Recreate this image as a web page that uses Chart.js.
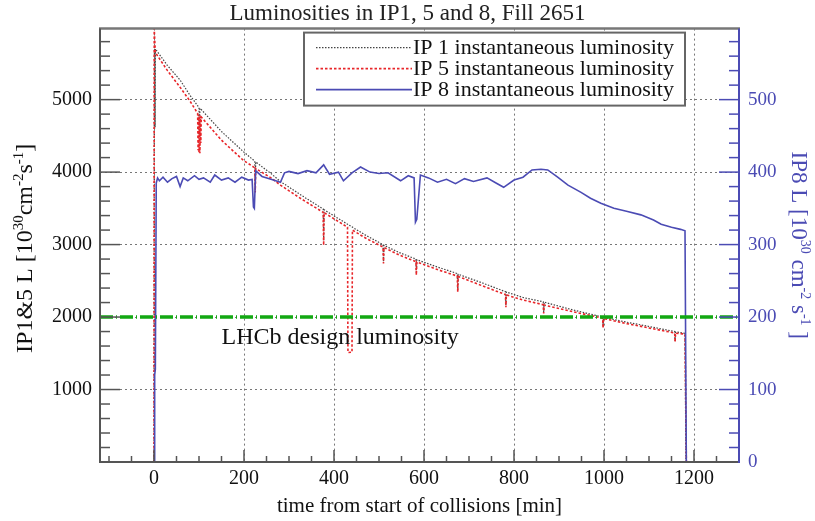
<!DOCTYPE html>
<html>
<head>
<meta charset="utf-8">
<script src="https://cdn.jsdelivr.net/npm/chart.js@4.4.0/dist/chart.umd.min.js"></script>
<style>
  body { margin: 0; background: #fff; }
  #wrap { width: 815px; height: 521px; }
</style>
</head>
<body>
<div id="wrap"><canvas id="lumi" width="815" height="521"></canvas></div>
<script>
// time from start of collisions [min] and luminosity values
const ip1Time = [0, 0.5, 1, 1.5, 2, 2.5, 3, 30, 58, 80, 100, 101, 102, 104, 150, 199, 224, 225, 226, 260, 281, 330, 376, 377, 378, 433, 470, 509, 510, 511, 545, 582, 583, 584, 630, 674, 675, 676, 730, 781, 782, 783, 820, 865, 866, 867, 930, 997, 998, 999, 1050, 1100, 1157, 1158, 1159, 1180, 1182];
const ip1Lumi = [0, 4580, 5700, 4600, 5690, 4620, 5700, 5470, 5270, 5060, 4890, 4480, 4880, 4870, 4560, 4280, 4150, 3800, 4140, 3980, 3870, 3670, 3490, 3050, 3480, 3270, 3130, 3000, 2760, 2990, 2890, 2800, 2600, 2790, 2690, 2600, 2370, 2590, 2470, 2350, 2160, 2345, 2270, 2210, 2070, 2205, 2100, 2000, 1870, 1995, 1930, 1870, 1800, 1670, 1795, 1775, 0];

const ip5Time = [0, 0.5, 3, 30, 58, 80, 97, 98, 99, 100, 101, 102, 103, 104, 105, 150, 199, 224, 225, 226, 260, 281, 330, 376, 377, 378, 430, 431, 440, 441, 470, 509, 510, 511, 545, 582, 583, 584, 630, 674, 675, 676, 730, 781, 782, 783, 820, 865, 866, 867, 930, 997, 998, 999, 1050, 1100, 1157, 1158, 1159, 1180, 1183];
const ip5Lumi = [0, 5980, 5650, 5400, 5170, 4980, 4810, 4300, 4790, 4270, 4780, 4260, 4770, 4400, 4760, 4440, 4160, 4060, 3720, 4050, 3920, 3820, 3620, 3445, 2990, 3440, 3240, 1510, 1515, 3200, 3090, 2965, 2740, 2960, 2855, 2765, 2580, 2760, 2655, 2565, 2345, 2560, 2430, 2310, 2135, 2305, 2235, 2170, 2050, 2165, 2075, 1985, 1850, 1980, 1910, 1850, 1780, 1655, 1778, 1765, 0];

const ip8Time = [0, 1, 2, 3, 5, 8, 12, 20, 30, 40, 50, 58, 65, 75, 90, 100, 110, 125, 135, 150, 165, 180, 195, 210, 218, 221, 223, 226, 240, 260, 281, 290, 300, 320, 340, 360, 377, 390, 410, 421, 440, 459, 480, 500, 520, 548, 565, 578, 581, 584, 592, 610, 630, 650, 670, 690, 710, 740, 760, 777, 800, 820, 840, 860, 875, 897, 920, 949, 970, 993, 1022, 1050, 1082, 1110, 1127, 1150, 1170, 1180, 1183];
const ip8Lumi = [0, 5, 120, 128, 385, 392, 388, 393, 386, 391, 394, 380, 392, 388, 395, 390, 392, 386, 396, 389, 392, 386, 393, 389, 390, 352, 350, 402, 394, 390, 386, 399, 401, 398, 402, 399, 410, 397, 400, 388, 399, 407, 400, 398, 399, 388, 395, 392, 331, 335, 396, 392, 386, 390, 384, 391, 387, 392, 385, 379, 389, 393, 403, 404, 403, 393, 382, 372, 364, 357, 350, 346, 341, 334, 328, 324, 321, 319, 0];

const designTime = [-120, 1300];
const designLumi = [2000, 2000];

const xTickValues = [0, 200, 400, 600, 800, 1000, 1200];
const leftTickValues = [0, 1000, 2000, 3000, 4000, 5000];
const rightTickValues = [0, 100, 200, 300, 400, 500];

const labels = ['IP 1 instantaneous luminosity', 'IP 5 instantaneous luminosity', 'IP 8 instantaneous luminosity'];

// axis titles with superscripts: [text, isSuperscript]
const leftTitle = [['IP1&5 L [10', false], ['30', true], ['cm', false], ['-2', true], ['s', false], ['-1', true], [']', false]];
const rightTitle = [['IP8 L [10', false], ['30', true], [' cm', false], ['-2', true], [' s', false], ['-1', true], [' ]', false]];

const serif = "'Liberation Serif', 'Times New Roman', serif";
const axisGray = '#555';
const blue = '#4b4bb4';

function toPoints(xs, ys) {
  return xs.map((x, i) => ({ x: x, y: ys[i] }));
}

function stroke(ctx, x1, y1, x2, y2) {
  ctx.beginPath();
  ctx.moveTo(x1, y1);
  ctx.lineTo(x2, y2);
  ctx.stroke();
}

function richText(ctx, parts, cx, cy, angle, color, size) {
  const big = size + 'px ' + serif, small = Math.round(size * 0.63) + 'px ' + serif;
  let total = 0;
  parts.forEach(p => { ctx.font = p[1] ? small : big; total += ctx.measureText(p[0]).width; });
  ctx.save();
  ctx.translate(cx, cy);
  ctx.rotate(angle);
  ctx.fillStyle = color;
  ctx.textBaseline = 'alphabetic';
  ctx.textAlign = 'left';
  let x = -total / 2;
  parts.forEach(p => {
    ctx.font = p[1] ? small : big;
    ctx.fillText(p[0], x, p[1] ? -1 : 8);
    x += ctx.measureText(p[0]).width;
  });
  ctx.restore();
}

// inward ROOT-style ticks plus the frame
const frameTicks = {
  id: 'frameTicks',
  afterDatasetsDraw(chart) {
    const { ctx, chartArea: a, scales } = chart;
    ctx.save();
    ctx.setLineDash([]);
    ctx.strokeStyle = axisGray;
    ctx.lineWidth = 1.5;
    for (let v = -100; v < 1300; v += 50) {
      const px = scales.x.getPixelForValue(v);
      stroke(ctx, px, a.bottom, px, a.bottom - (v % 200 === 0 ? 12 : 6));
    }
    for (let v = 200; v < 5980; v += 200) {
      const py = scales.y.getPixelForValue(v);
      stroke(ctx, a.left, py, a.left + (v % 1000 === 0 ? 20 : 10), py);
    }
    ctx.strokeStyle = blue;
    for (let v = 20; v < 598; v += 20) {
      const py = scales.y2.getPixelForValue(v);
      stroke(ctx, a.right, py, a.right - (v % 100 === 0 ? 20 : 10), py);
    }
    // frame
    ctx.lineWidth = 2.5;
    ctx.strokeStyle = '#777';
    stroke(ctx, a.left - 1, a.top, a.right + 1, a.top);
    ctx.lineWidth = 2;
    ctx.strokeStyle = axisGray;
    stroke(ctx, a.left, a.top, a.left, a.bottom + 1);
    stroke(ctx, a.left, a.bottom, a.right, a.bottom);
    ctx.strokeStyle = blue;
    stroke(ctx, a.right, a.top, a.right, a.bottom + 1);
    ctx.restore();
  },
  afterDraw(chart) {
    const { ctx, chartArea: a, scales } = chart;
    const midY = (a.top + a.bottom) / 2;
    richText(ctx, leftTitle, 24, midY + 3, -Math.PI / 2, '#111', 24);
    richText(ctx, rightTitle, 800, midY, Math.PI / 2, blue, 23);

    ctx.save();
    // LHCb design label
    ctx.font = '24px ' + serif;
    ctx.fillStyle = '#111';
    ctx.textAlign = 'left';
    ctx.textBaseline = 'middle';
    ctx.fillText('LHCb design luminosity', scales.x.getPixelForValue(150), scales.y.getPixelForValue(1720));

    // legend box
    const bx = a.right - 435, by = a.top + 4, bw = 381, bh = 73;
    ctx.fillStyle = '#fff';
    ctx.fillRect(bx, by, bw, bh);
    ctx.lineWidth = 2;
    ctx.strokeStyle = '#666';
    ctx.strokeRect(bx, by, bw, bh);
    ctx.font = '22px ' + serif;
    chart.data.datasets.slice(0, 3).forEach((ds, i) => {
      const y = by + 15 + i * 21;
      ctx.strokeStyle = ds.borderColor;
      ctx.lineWidth = ds.borderWidth;
      ctx.setLineDash(ds.borderDash || []);
      stroke(ctx, bx + 12, y, bx + 108, y);
      ctx.setLineDash([]);
      ctx.fillStyle = '#111';
      ctx.fillText(ds.label, bx + 109, y + 1);
    });
    ctx.restore();
  }
};

new Chart(document.getElementById('lumi'), {
  type: 'line',
  data: {
    datasets: [
      {
        label: labels[0],
        data: toPoints(ip1Time, ip1Lumi),
        borderColor: '#444',
        borderWidth: 1.2,
        borderDash: [1.5, 1.5],
        yAxisID: 'y',
        order: 3
      },
      {
        label: labels[1],
        data: toPoints(ip5Time, ip5Lumi),
        borderColor: '#e8262a',
        borderWidth: 1.6,
        borderDash: [2.5, 2],
        yAxisID: 'y',
        order: 2
      },
      {
        label: labels[2],
        data: toPoints(ip8Time, ip8Lumi),
        borderColor: blue,
        borderWidth: 1.6,
        yAxisID: 'y2',
        order: 1
      },
      {
        label: 'LHCb design luminosity',
        data: toPoints(designTime, designLumi),
        borderColor: '#12a812',
        borderWidth: 3.5,
        borderDash: [13, 3, 1, 3],
        yAxisID: 'y',
        order: 0
      }
    ]
  },
  options: {
    responsive: false,
    animation: false,
    parsing: false,
    elements: { point: { radius: 0 }, line: { tension: 0 } },
    plugins: {
      legend: { display: false },
      tooltip: { enabled: false },
      title: {
        display: true,
        text: 'Luminosities in IP1, 5 and 8, Fill 2651',
        color: '#222',
        font: { family: serif, size: 23, weight: 'normal' },
        padding: { top: 0, bottom: 1 }
      }
    },
    scales: {
      x: {
        type: 'linear',
        position: 'bottom',
        min: -120,
        max: 1300,
        afterBuildTicks: s => { s.ticks = xTickValues.map(v => ({ value: v })); },
        afterFit: s => { s.height = 59; },
        ticks: {
          color: '#111',
          font: { family: serif, size: 20 },
          padding: 5,
          maxRotation: 0,
          autoSkip: false,
          callback: v => String(v)
        },
        grid: { color: '#777', lineWidth: 1, drawTicks: false },
        border: { display: false, dash: [2, 3] },
        title: {
          display: true,
          text: 'time from start of collisions [min]',
          color: '#111',
          font: { family: serif, size: 21 },
          padding: { top: 0, bottom: 2 }
        }
      },
      y: {
        type: 'linear',
        position: 'left',
        min: 0,
        max: 5980,
        afterBuildTicks: s => { s.ticks = leftTickValues.map(v => ({ value: v })); },
        afterFit: s => { s.width = 100; },
        ticks: {
          color: '#111',
          font: { family: serif, size: 20 },
          padding: 8,
          callback: v => (v === 0 ? '' : String(v))
        },
        grid: { color: '#777', lineWidth: 1, drawTicks: false },
        border: { display: false, dash: [2, 3] }
      },
      y2: {
        type: 'linear',
        position: 'right',
        min: 0,
        max: 598,
        afterBuildTicks: s => { s.ticks = rightTickValues.map(v => ({ value: v })); },
        afterFit: s => { s.width = 76; },
        ticks: {
          color: blue,
          font: { family: serif, size: 19 },
          padding: 9,
          callback: v => String(v)
        },
        grid: { drawOnChartArea: false, drawTicks: false },
        border: { display: false }
      }
    }
  },
  plugins: [frameTicks]
});
</script>
</body>
</html>
